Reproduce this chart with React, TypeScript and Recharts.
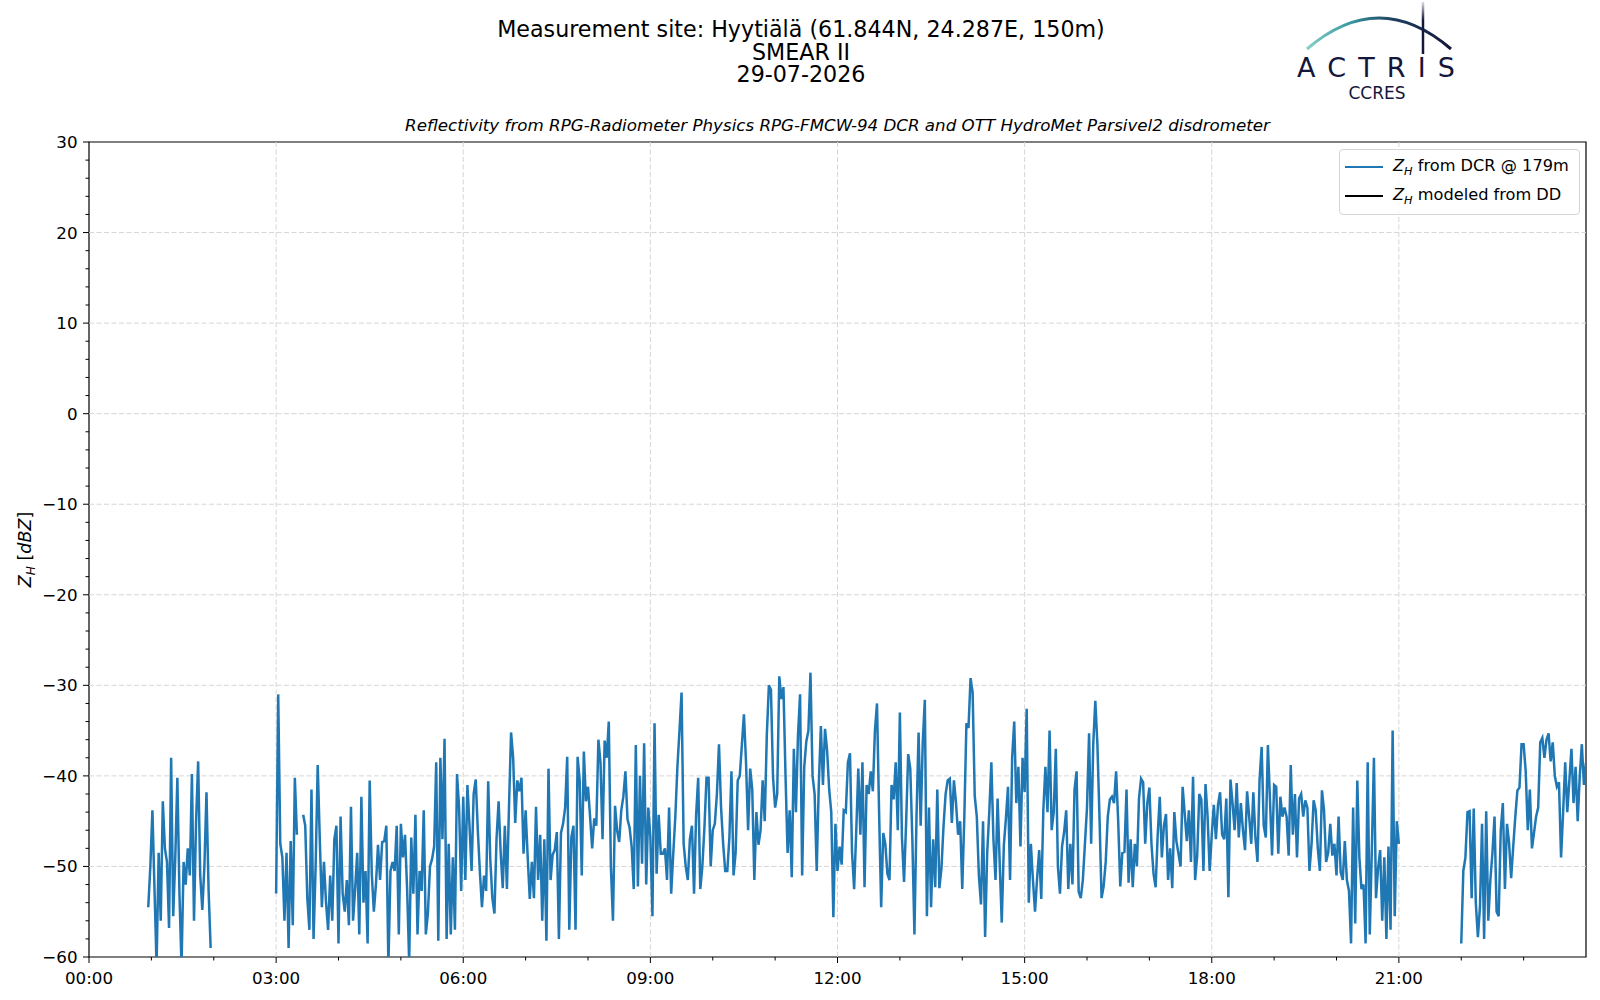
import React from 'react';
import { LineChart, Line, XAxis, YAxis, ReferenceLine, ReferenceArea } from 'recharts';

const W = 1600;
const H = 1000;
const FONT = '"DejaVu Sans", Verdana, sans-serif';
const PLOT = { left: 89, top: 142, right: 1586, bottom: 957 };
const BLUE = '#1f77b4';
const NAVY = '#14173a';

// sampling step of the DCR reflectivity, minutes
const STEP = 2;

// Z_H [dBZ], one block per stretch; key = start time (minutes after 00:00)
const zh0057 = [
  -54.5, -50, -43.8, -52.5, -61, -48.5, -56, -42.8, -48, -49.5,
  -56.8, -38, -55.5, -49, -40.2, -53, -61, -49.5, -52, -48,
  -51, -39.8, -56, -45, -38.4, -51, -54.8, -50, -41.8, -52.5,
  -59,
];
const zh0300 = [
  -53, -31, -47.5, -49, -56, -48.5, -59, -47.2, -56.5, -40.2,
  -46.5, null, null, -44.3, -45.5, -53.5, -57, -41.5, -58, -50,
  -38.8, -47, -54.5, -49.5, -54, -57, -51, -56, -47,
];
const zh0358 = [
  -45.5, -58.5, -44.5, -53, -55, -51.5, -56.5, -43.4, -56, -52.5,
  -48.5, -57.5, -42.3, -54, -50.5, -58.5, -40.5, -50.8, -55, -52,
  -47.6, -51.5, -47.3, -47.2, -45.5, -61, -50.5, -49.5, -50.5, -45.5,
  -57.5, -45.3, -49, -46.5, -52.5, -60.5, -46.8, -53, -44.3, -57.5,
  -50.5, -52.7, -43.8, -57.5, -55.2, -50, -49.2, -47.8, -38.5, -58.2,
  -38, -47, -35.9, -58, -47.5, -57.5, -49, -57, -39.8, -43.5,
  -52.7, -42.3, -51.5, -41, -45.5, -50.5, -42, -40.4, -46, -50.6,
  -54.5, -51, -52.7, -40.6, -49.2, -53.5, -55.2, -47, -42.8, -48.5,
  -52.4, -45.5, -52.5, -43.4, -35.2, -38, -45.2, -40.5, -41.7, -40.2,
  -48.6, -43.8, -49, -53.6, -49.5, -53.5, -43.4, -51.5, -46.5, -56,
  -47, -58.2, -39.2, -51.5, -48.7, -48.2, -46.2, -58, -46.3, -45.3,
  -43.5, -37.9, -57, -46.8, -45.5, -57, -37.9, -40.5,
];
const zh0754 = [
  -51, -37.3, -42.8, -41.2, -44.5, -48, -44.7, -45.5, -36, -38.5,
  -47, -36.1, -38, -34, -50, -56, -43.3, -46, -47.3, -43.8,
  -42.3, -39.5, -44.8, -45.7, -47.8, -52.5, -36.6, -52.2, -40, -49.7,
  -36.4, -52, -43.5, -46.8, -55.5, -34.2, -50.8, -44.3, -48.6, -48.6,
  -48, -51.5, -43.5, -53, -48.6, -44.5, -39, -35, -30.8, -47.5,
  -50, -51.5, -47, -45.5, -53, -44.3, -40.2, -52.5, -50, -45.7,
  -40.2, -40.2, -50, -46, -45.3, -42, -36.5, -43.5, -47.5, -50.5,
  -50.5, -46.8, -39.5, -51, -48.5, -40.5, -40, -36.6, -33.2, -38.5,
  -46, -39.2, -41.5, -51.5, -44, -47.6, -46, -40.5, -45, -35.5,
  -30, -30.5, -40.2, -43.5, -42, -29, -31.5, -30.2, -40, -48.5,
  -43.8, -51.2, -37, -44, -35.5, -31, -51, -39, -36.2, -35,
  -28.6, -40, -42, -50.5, -41, -34.5, -41,
];
const zh1148 = [
  -34.8, -37.2, -41.5, -44, -55.6, -45.3, -50.5, -47.8, -49.8, -43.8,
  -44, -38.5, -37.5, -48.5, -52.5, -46.2, -39.2, -46.5, -38.5, -52.3,
  -41, -42, -39.5, -41.7, -35, -32, -44, -54.5, -46.3, -47.5,
  -50.8, -51.5, -41, -42.6, -38.5, -46, -33, -46.8, -51.7, -45.2,
  -37.6, -39.2, -47, -57.5, -44.5, -35.2, -45.5, -36.3, -31.6, -55.5,
  -43.5, -54.5, -47, -52.3, -41.5, -52.4, -50.2, -45.5, -42, -40.5,
  -40.3, -45.2, -40.5, -43, -46.5, -45, -52.5, -44.5, -34.2, -34.7,
  -29.2, -30.8, -42.2, -44.5, -51, -54.2, -45, -57.8, -48.5, -44,
  -38.5, -47, -51.5, -42.5, -49.5, -56.2, -47.7, -44.7, -41.2, -51.5,
  -38, -34, -43, -39, -47.8, -38, -41.8, -32.6, -54, -47.5,
  -51.5, -55, -51.3, -48.2, -53.6, -43.8, -39, -44, -35, -46,
  -44, -37, -50, -53, -47.8, -46.2, -43.8, -52.5,
];
const zh1544 = [
  -47.5, -52, -41.5, -39.5, -52.8, -53.5, -51.5, -47.5, -43.5, -35.3,
  -47.5, -36.5, -31.7, -36.5, -44.5, -53.5, -52.2, -49.5, -44.5, -42.6,
  -42.3, -43, -39.5, -45, -52.2, -48.5, -48.4, -41.5, -51.8, -47,
  -52.3, -47.5, -50, -42.5, -40.3, -40.7, -47.5, -43, -41.3, -47.5,
  -50.8, -52.3, -46.5, -42.3, -49, -45.5, -44.2, -51.5, -48, -52.4,
  -44, -47.2, -48.6, -50, -41.2, -44.2, -47.2, -43.8, -49.5, -40.1,
  -51.5, -48.8, -42, -42.6, -50.5, -40.9, -44.5, -50.5, -46.5, -43.2,
  -47, -43.2, -41.8, -46.5, -47, -42.5, -53.4, -40.4, -43, -46,
  -40.8, -46.8, -43, -46, -48.2, -41.7, -44.5, -47.5, -41.8, -46.8,
  -49.5, -40.4, -36.8, -45.5, -46.8, -36.6, -42.6, -48.8, -41, -41.2,
  -48.6, -42.3, -44.5, -43.5, -44.5, -48.8, -38.8, -46.5, -42, -49,
  -42.5, -42, -44.5, -42.7, -43.5, -50.5, -47.5, -42.7,
];
const zh1940 = [
  -43.8, -48, -50.5, -41.6, -43.8, -49.5, -48.5, -45.3, -48.8, -47.5,
  -51, -44.5, -50.6, -51.5, -47.2, -51.5, -52.7, -58.5, -43.5, -56.3,
  -40.5, -49, -52.5, -52, -58.5, -38.5, -57.5, -48.1, -38, -53.5,
  -50.2, -48.2, -56, -49, -58, -47.8, -57, -35, -55.5, -45,
  -47.5,
];
const zh2200 = [
  -58.5, -50.5, -49, -44, -43.9, -53.5, -43.6, -54, -57.8, -54.5,
  -45.3, -58, -43.9, -56, -51.5, -48.5, -44.5, -55, -55.5, -46,
  -43, -52.5, -45.3, -47.4, -51.3, -47.8, -44.5, -41.6, -41.3, -36.5,
  -36.5, -39.5, -46, -41.5, -48, -46.3, -44.5, -43.5, -36.3, -35.8,
  -38, -36, -35.3, -38.4, -36.3, -40, -41.2, -40.7, -49, -44,
  -38.5, -44, -40.5, -37, -43, -39, -45, -40, -36.5, -41,
  -38.5,
];

const blocks: [number, (number | null)[]][] = [
  [57, zh0057],
  [180, zh0300],
  [238, zh0358],
  [474, zh0754],
  [708, zh1148],
  [944, zh1544],
  [1180, zh1940],
  [1320, zh2200],
];

const yMajorTicks = [-60, -50, -40, -30, -20, -10, 0, 10, 20, 30];
const yTicks = Array.from({ length: 46 }, (_, i) => -60 + 2 * i);
const xMajorTicks = [0, 180, 360, 540, 720, 900, 1080, 1260];
const xTicks = Array.from({ length: 24 }, (_, i) => i * 60);
const xLabels = ['00:00', '03:00', '06:00', '09:00', '12:00', '15:00', '18:00', '21:00'];

const titleLines = ['Measurement site: Hyytiälä (61.844N, 24.287E, 150m)', 'SMEAR II', '29-07-2026'];
const subtitle = 'Reflectivity from RPG-Radiometer Physics RPG-FMCW-94 DCR and OTT HydroMet Parsivel2 disdrometer';

const series = [
  { key: 'zh', label: ' from DCR @ 179m', color: BLUE },
  { key: 'dd', label: ' modeled from DD', color: '#000' },
];

// flatten the blocks into one table, with a null row wherever the record stops
const chartData: { t: number; zh: number | null }[] = [];
blocks.forEach(([start, values]) => {
  const last = chartData[chartData.length - 1];
  if (last && start - last.t > STEP) chartData.push({ t: last.t + 1, zh: null });
  values.forEach((v, i) => chartData.push({ t: start + i * STEP, zh: v }));
});

const fmtY = (v: number) => (v < 0 ? `\u2212${-v}` : `${v}`);

function YTick(props: any) {
  const { y, payload } = props;
  const v = payload.value as number;
  const major = yMajorTicks.includes(v);
  const len = major ? 6 : 3.5;
  return (
    <g>
      <line x1={PLOT.left - len} x2={PLOT.left} y1={y} y2={y} stroke="#000" strokeWidth={1} />
      {major && (
        <text x={PLOT.left - 11.5} y={y} dy="0.36em" textAnchor="end" fontSize={16.7} fontFamily={FONT} fill="#000">
          {fmtY(v)}
        </text>
      )}
    </g>
  );
}

function XTick(props: any) {
  const { x, payload } = props;
  const v = payload.value as number;
  const idx = xMajorTicks.indexOf(v);
  const len = idx >= 0 ? 6 : 3.5;
  return (
    <g>
      <line x1={x} x2={x} y1={PLOT.bottom} y2={PLOT.bottom + len} stroke="#000" strokeWidth={1} />
      {idx >= 0 && (
        <text x={x} y={PLOT.bottom + 27} textAnchor="middle" fontSize={16.7} fontFamily={FONT} fill="#000">
          {xLabels[idx]}
        </text>
      )}
    </g>
  );
}

function LegendBox() {
  return (
    <div
      style={{
        position: 'absolute',
        left: 1339,
        top: 149,
        width: 241,
        border: '1px solid #d4d4d4',
        borderRadius: 4,
        background: 'rgba(255,255,255,0.8)',
        padding: '2px 0 4px 5px',
        fontFamily: FONT,
        fontSize: 16.2,
        lineHeight: 1,
        whiteSpace: 'nowrap',
        boxSizing: 'border-box',
      }}
    >
      {series.map((s) => (
        <div key={s.key} style={{ display: 'flex', alignItems: 'center', height: 29 }}>
          <span style={{ display: 'inline-block', width: 38, borderTop: `2.5px solid ${s.color}`, marginRight: 10 }} />
          <span>
            <i>Z</i>
            <i style={{ fontSize: '0.7em', position: 'relative', top: '0.3em' }}>H</i>
            {s.label}
          </span>
        </div>
      ))}
    </div>
  );
}

export default function App() {
  const plotMidX = (PLOT.left + PLOT.right) / 2;
  const plotMidY = (PLOT.top + PLOT.bottom) / 2;
  return (
    <div style={{ position: 'relative', width: W, height: H, background: '#fff' }}>
      <style>{'body{margin:0;background:#fff;}'}</style>
      <LineChart
        width={W}
        height={H}
        data={chartData}
        margin={{ top: PLOT.top, right: W - PLOT.right, bottom: 0, left: 0 }}
      >
        <XAxis
          dataKey="t"
          type="number"
          domain={[0, 1440]}
          allowDataOverflow
          ticks={xTicks}
          interval={0}
          height={H - PLOT.bottom}
          axisLine={false}
          tickLine={false}
          tick={<XTick />}
        />
        <YAxis
          type="number"
          domain={[-60, 30]}
          allowDataOverflow
          ticks={yTicks}
          interval={0}
          width={PLOT.left}
          axisLine={false}
          tickLine={false}
          tick={<YTick />}
        />
        {yMajorTicks.slice(1, -1).map((v) => (
          <ReferenceLine key={`h${v}`} y={v} stroke="#d6d6d6" strokeWidth={1} strokeDasharray="5 2.5" />
        ))}
        {xMajorTicks.slice(1).map((v) => (
          <ReferenceLine key={`v${v}`} x={v} stroke="#d6d6d6" strokeWidth={1} strokeDasharray="5 2.5" />
        ))}
        {series.map((s) => (
          <Line
            key={s.key}
            type="linear"
            dataKey={s.key}
            stroke={s.color}
            strokeWidth={2.5}
            dot={false}
            activeDot={false}
            connectNulls={false}
            isAnimationActive={false}
          />
        ))}
        <ReferenceArea x1={0} x2={1440} y1={-60} y2={30} fill="none" stroke="#000" strokeWidth={1.2} />
      </LineChart>

      <LegendBox />

      <svg width={W} height={H} style={{ position: 'absolute', left: 0, top: 0, pointerEvents: 'none' }}>
        <defs>
          <linearGradient id="arcGrad" x1={1307} y1={0} x2={1451} y2={0} gradientUnits="userSpaceOnUse">
            <stop offset="0" stopColor="#86d0c8" />
            <stop offset="0.3" stopColor="#3a98a0" />
            <stop offset="0.6" stopColor="#1e3f5e" />
            <stop offset="1" stopColor={NAVY} />
          </linearGradient>
          <linearGradient id="barGrad" x1={0} y1={2} x2={0} y2={54} gradientUnits="userSpaceOnUse">
            <stop offset="0" stopColor={NAVY} stopOpacity={0.15} />
            <stop offset="0.35" stopColor={NAVY} stopOpacity={1} />
          </linearGradient>
        </defs>

        {titleLines.map((s, i) => (
          <text key={s} x={801} y={37 + i * 22.6} textAnchor="middle" fontSize={22.2} fontFamily={FONT} fill="#000">
            {s}
          </text>
        ))}
        <text x={plotMidX} y={131} textAnchor="middle" fontSize={16.7} fontStyle="italic" fontFamily={FONT} fill="#000">
          {subtitle}
        </text>

        <text
          transform={`translate(31, ${plotMidY}) rotate(-90)`}
          textAnchor="middle"
          fontSize={17.5}
          fontFamily={FONT}
          fill="#000"
        >
          <tspan fontStyle="italic">Z</tspan>
          <tspan fontStyle="italic" fontSize={12.2} dy={4}>H</tspan>
          <tspan dy={-4}> [</tspan>
          <tspan fontStyle="italic">dBZ</tspan>
          <tspan>]</tspan>
        </text>

        <path d="M1307,49 Q1379,-13 1451,49" stroke="url(#arcGrad)" strokeWidth={3} fill="none" />
        <line x1={1423} y1={2} x2={1423} y2={54} stroke="url(#barGrad)" strokeWidth={2.5} />
        <text x={1297} y={77} fontSize={27} fontFamily={FONT} fill={NAVY} textLength={158} lengthAdjust="spacing">
          ACTRIS
        </text>
        <text x={1377} y={99} fontSize={17} fontFamily={FONT} fill={NAVY} textAnchor="middle">
          CCRES
        </text>
      </svg>
    </div>
  );
}
